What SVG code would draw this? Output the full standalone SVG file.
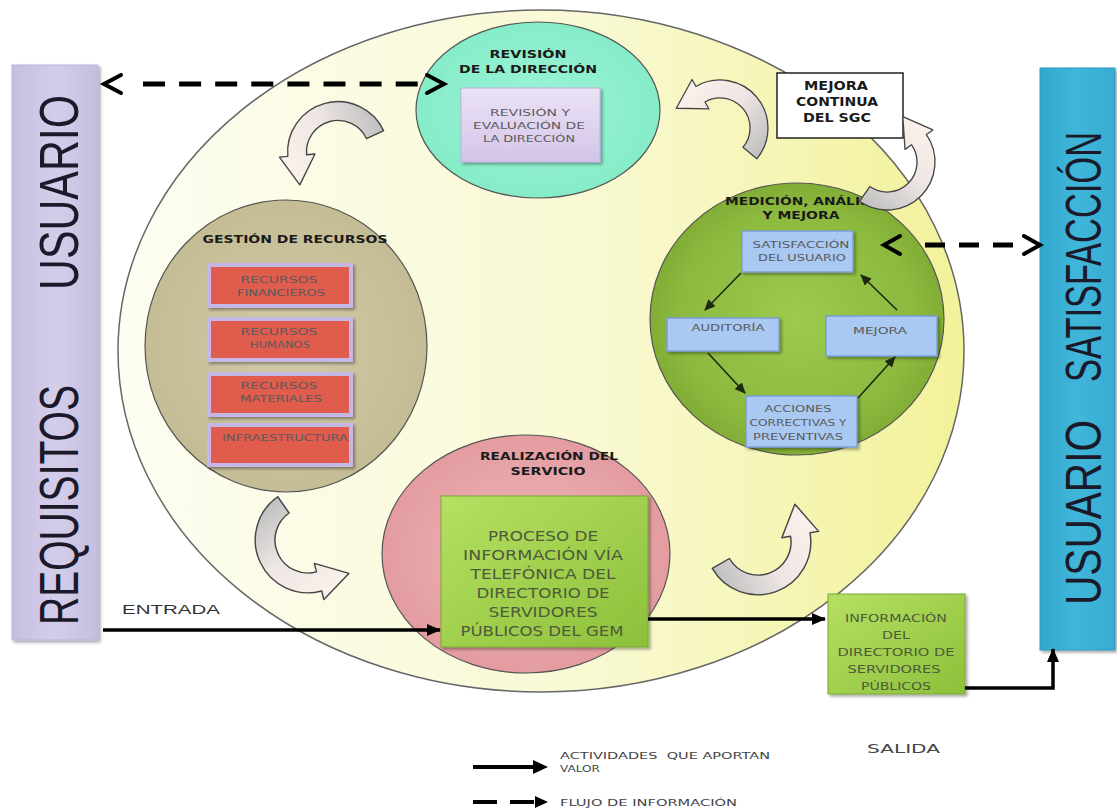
<svg xmlns="http://www.w3.org/2000/svg" width="1117" height="809" viewBox="0 0 1117 809">
<defs>
<style>
.tt{font-family:"DejaVu Sans",sans-serif;font-weight:bold;fill:#1a1a1a;text-anchor:middle}
.bx{font-family:"DejaVu Sans",sans-serif;fill:#5a5a5a;text-anchor:middle}
.big{font-family:"Liberation Sans",Arial,sans-serif;fill:#1a1a2a}
.circ{stroke:#555;stroke-width:1.2}
.blue{fill:#a9c8f2;stroke:#7a9fd6;stroke-width:1.5}
.red{fill:#e05c4e;stroke:#c6b8e6;stroke-width:4}
.arw{fill:url(#gArrow);stroke:#444;stroke-width:1.3;stroke-linejoin:round}
.dash{stroke:#000;stroke-width:5;fill:none}
.chev{stroke:#000;stroke-width:4;fill:none;stroke-linecap:round}
.sol{stroke:#000;stroke-width:3.5;fill:none}
.thin{stroke:#1e2a10;stroke-width:1.6;fill:none}
.lbl{font-family:"DejaVu Sans",sans-serif;fill:#444}
</style>
<linearGradient id="gBig" x1="0" y1="0" x2="1" y2="0"><stop offset="0" stop-color="#fdfdf2"/><stop offset="0.55" stop-color="#f9f9d4"/><stop offset="1" stop-color="#f2f29a"/></linearGradient>
<radialGradient id="gRev"><stop offset="0" stop-color="#9cf4d8"/><stop offset="1" stop-color="#86ecc8"/></radialGradient>
<radialGradient id="gMed"><stop offset="0" stop-color="#9ccb4e"/><stop offset="0.8" stop-color="#8cb93e"/><stop offset="1" stop-color="#82ad36"/></radialGradient>
<radialGradient id="gGes"><stop offset="0" stop-color="#d2cba8"/><stop offset="1" stop-color="#c4bc94"/></radialGradient>
<radialGradient id="gRea"><stop offset="0" stop-color="#f0b8ba"/><stop offset="1" stop-color="#e39ca0"/></radialGradient>
<linearGradient id="gLav" x1="0" y1="0" x2="0" y2="1"><stop offset="0" stop-color="#ece3f6"/><stop offset="1" stop-color="#d3c4e8"/></linearGradient>
<linearGradient id="gGreen" x1="0" y1="0" x2="1" y2="1"><stop offset="0" stop-color="#b6e062"/><stop offset="1" stop-color="#8cc03a"/></linearGradient>
<linearGradient id="gLeft" x1="0" y1="0" x2="1" y2="0"><stop offset="0" stop-color="#c6bee0"/><stop offset="0.5" stop-color="#d4cdea"/><stop offset="1" stop-color="#c6bee0"/></linearGradient>
<linearGradient id="gRight" x1="0" y1="0" x2="1" y2="0"><stop offset="0" stop-color="#32a8cc"/><stop offset="0.5" stop-color="#40b6da"/><stop offset="1" stop-color="#36acd0"/></linearGradient>
<linearGradient id="gArrow" x1="0" y1="0" x2="1" y2="0"><stop offset="0" stop-color="#fbf1ec"/><stop offset="0.5" stop-color="#eee6e4"/><stop offset="1" stop-color="#c0c0c0"/></linearGradient>
<filter id="sh" x="-10%" y="-10%" width="125%" height="130%"><feDropShadow dx="2" dy="2" stdDeviation="1.5" flood-color="#000" flood-opacity="0.35"/></filter>
<path id="cArrow" d="M 48 0 A 48 48 0 0 0 -45.1 -16.4 L -52.6 -19.2 L -46.2 13.0 L -20.7 -7.5 L -28.2 -10.3 A 30 30 0 0 1 30 0 Z"/>
<marker id="ah" markerUnits="userSpaceOnUse" markerWidth="14" markerHeight="12" refX="13" refY="6" orient="auto"><path d="M0,0 L14,6 L0,12 Z" fill="#000"/></marker>
<marker id="ahs" markerUnits="userSpaceOnUse" markerWidth="11" markerHeight="10" refX="10" refY="5" orient="auto"><path d="M0,0 L11,5 L0,10 Z" fill="#1e2a10"/></marker>
</defs>

<rect width="1117" height="809" fill="#ffffff"/>

<g id="sgc-ellipse">
<ellipse cx="541" cy="351" rx="423" ry="341" fill="url(#gBig)" stroke="#666" stroke-width="1.5"/>
</g>

<g id="usuario-requisitos">
<rect x="12" y="65" width="86" height="575" fill="url(#gLeft)" stroke="#bdb4da" stroke-width="1" filter="url(#sh)"/>
<text class="big" transform="translate(78,290) rotate(-90)" font-size="56" textLength="195" lengthAdjust="spacingAndGlyphs">USUARIO</text>
<text class="big" transform="translate(78,625) rotate(-90)" font-size="56" textLength="240" lengthAdjust="spacingAndGlyphs">REQUISITOS</text>
</g>

<g id="usuario-satisfaccion">
<rect x="1040" y="68" width="75" height="582" fill="url(#gRight)" stroke="#2a9cc0" stroke-width="1" filter="url(#sh)"/>
<text class="big" fill="#0a1a30" transform="translate(1101,382) rotate(-90)" font-size="50" textLength="250" lengthAdjust="spacingAndGlyphs">SATISFACCIÓN</text>
<text class="big" fill="#0a1a30" transform="translate(1101,605) rotate(-90)" font-size="50" textLength="185" lengthAdjust="spacingAndGlyphs">USUARIO</text>
</g>

<g id="revision-direccion">
<ellipse class="circ" cx="538" cy="110" rx="122" ry="88" fill="url(#gRev)"/>
<text class="tt" x="528" y="58" font-size="11" textLength="77" lengthAdjust="spacingAndGlyphs">REVISIÓN</text>
<text class="tt" x="528" y="73" font-size="11" textLength="138" lengthAdjust="spacingAndGlyphs">DE LA DIRECCIÓN</text>
<rect x="461" y="88" width="139" height="74" fill="url(#gLav)" stroke="#c0b0dc" stroke-width="1" filter="url(#sh)"/>
<text class="bx" x="530" y="116" font-size="9" textLength="80" lengthAdjust="spacingAndGlyphs">REVISIÓN Y</text>
<text class="bx" x="529" y="129" font-size="9" textLength="112" lengthAdjust="spacingAndGlyphs">EVALUACIÓN DE</text>
<text class="bx" x="529" y="142" font-size="9" textLength="92" lengthAdjust="spacingAndGlyphs">LA DIRECCIÓN</text>
</g>

<g id="mejora-continua">
<rect x="777" y="73" width="126" height="65" fill="#ffffff" stroke="#222" stroke-width="1.5"/>
<text class="tt" x="836" y="90" font-size="12" textLength="64" lengthAdjust="spacingAndGlyphs">MEJORA</text>
<text class="tt" x="837" y="106" font-size="12" textLength="82" lengthAdjust="spacingAndGlyphs">CONTINUA</text>
<text class="tt" x="837" y="122" font-size="12" textLength="68" lengthAdjust="spacingAndGlyphs">DEL SGC</text>
</g>

<g id="medicion-analisis-mejora">
<ellipse class="circ" cx="797" cy="319" rx="147" ry="136" fill="url(#gMed)"/>
<text class="tt" x="725" y="205" font-size="11" style="text-anchor:start" textLength="160" lengthAdjust="spacingAndGlyphs">MEDICIÓN, ANÁLISIS</text>
<text class="tt" x="801" y="219" font-size="11" textLength="77" lengthAdjust="spacingAndGlyphs">Y MEJORA</text>
<g id="satisfaccion-usuario">
<rect class="blue" x="742" y="231" width="111" height="41" filter="url(#sh)"/>
<text class="bx" x="801" y="248" font-size="8.5" textLength="97" lengthAdjust="spacingAndGlyphs">SATISFACCIÓN</text>
<text class="bx" x="802" y="261" font-size="8.5" textLength="88" lengthAdjust="spacingAndGlyphs">DEL USUARIO</text>
</g>
<g id="auditoria">
<rect class="blue" x="667" y="318" width="112" height="33" filter="url(#sh)"/>
<text class="bx" x="728" y="331" font-size="8.5" textLength="73" lengthAdjust="spacingAndGlyphs">AUDITORÍA</text>
</g>
<g id="mejora">
<rect class="blue" x="826" y="316" width="111" height="40" filter="url(#sh)"/>
<text class="bx" x="880" y="334" font-size="8.5" textLength="54" lengthAdjust="spacingAndGlyphs">MEJORA</text>
</g>
<g id="acciones">
<rect class="blue" x="746" y="396" width="111" height="51" filter="url(#sh)"/>
<text class="bx" x="798" y="412" font-size="8.5" textLength="67" lengthAdjust="spacingAndGlyphs">ACCIONES</text>
<text class="bx" x="798" y="426" font-size="8.5" textLength="97" lengthAdjust="spacingAndGlyphs">CORRECTIVAS Y</text>
<text class="bx" x="798" y="440" font-size="8.5" textLength="90" lengthAdjust="spacingAndGlyphs">PREVENTIVAS</text>
</g>
</g>

<g id="gestion-recursos">
<ellipse class="circ" cx="286" cy="346" rx="141" ry="146" fill="url(#gGes)"/>
<text class="tt" x="295" y="243" font-size="11" textLength="185" lengthAdjust="spacingAndGlyphs">GESTIÓN DE RECURSOS</text>
<g id="recursos-financieros">
<rect class="red" x="209" y="265" width="142" height="41" filter="url(#sh)"/>
<text class="bx" x="279" y="283" font-size="8" textLength="77" lengthAdjust="spacingAndGlyphs">RECURSOS</text>
<text class="bx" x="281" y="296" font-size="8" textLength="88" lengthAdjust="spacingAndGlyphs">FINANCIEROS</text>
</g>
<g id="recursos-humanos">
<rect class="red" x="209" y="319" width="142" height="41" filter="url(#sh)"/>
<text class="bx" x="279" y="335" font-size="8" textLength="77" lengthAdjust="spacingAndGlyphs">RECURSOS</text>
<text class="bx" x="280" y="348" font-size="8" textLength="60" lengthAdjust="spacingAndGlyphs">HUMANOS</text>
</g>
<g id="recursos-materiales">
<rect class="red" x="209" y="374" width="142" height="41" filter="url(#sh)"/>
<text class="bx" x="279" y="389" font-size="8" textLength="77" lengthAdjust="spacingAndGlyphs">RECURSOS</text>
<text class="bx" x="281" y="402" font-size="8" textLength="82" lengthAdjust="spacingAndGlyphs">MATERIALES</text>
</g>
<g id="infraestructura">
<rect class="red" x="209" y="425" width="142" height="40" filter="url(#sh)"/>
<text class="bx" x="285" y="441" font-size="8" textLength="126" lengthAdjust="spacingAndGlyphs">INFRAESTRUCTURA</text>
</g>
</g>

<g id="realizacion-servicio">
<ellipse class="circ" cx="526" cy="554" rx="144" ry="119" fill="url(#gRea)"/>
<text class="tt" x="549" y="460" font-size="11" textLength="138" lengthAdjust="spacingAndGlyphs">REALIZACIÓN DEL</text>
<text class="tt" x="548" y="475" font-size="11" textLength="75" lengthAdjust="spacingAndGlyphs">SERVICIO</text>
<rect x="441" y="496" width="207" height="151" fill="url(#gGreen)" stroke="#7aa832" stroke-width="1" filter="url(#sh)"/>
<g class="bx" font-size="14" style="fill:#4e5a3a">
<text x="543" y="541" textLength="110" lengthAdjust="spacingAndGlyphs">PROCESO DE</text>
<text x="543" y="560" textLength="160" lengthAdjust="spacingAndGlyphs">INFORMACIÓN VÍA</text>
<text x="543" y="579" textLength="145" lengthAdjust="spacingAndGlyphs">TELEFÓNICA DEL</text>
<text x="543" y="598" textLength="133" lengthAdjust="spacingAndGlyphs">DIRECTORIO DE</text>
<text x="543" y="617" textLength="109" lengthAdjust="spacingAndGlyphs">SERVIDORES</text>
<text x="542" y="636" textLength="163" lengthAdjust="spacingAndGlyphs">PÚBLICOS DEL GEM</text>
</g>
</g>

<g id="informacion-directorio">
<rect x="828" y="594" width="137" height="100" fill="url(#gGreen)" stroke="#7aa832" stroke-width="1" filter="url(#sh)"/>
<g class="bx" font-size="11" style="fill:#4e5a3a">
<text x="896" y="622" textLength="102" lengthAdjust="spacingAndGlyphs">INFORMACIÓN</text>
<text x="896" y="639" textLength="28" lengthAdjust="spacingAndGlyphs">DEL</text>
<text x="896" y="656" textLength="117" lengthAdjust="spacingAndGlyphs">DIRECTORIO DE</text>
<text x="894" y="673" textLength="93" lengthAdjust="spacingAndGlyphs">SERVIDORES</text>
<text x="896" y="690" textLength="70" lengthAdjust="spacingAndGlyphs">PÚBLICOS</text>
</g>
</g>

<g id="connectors">
<use href="#cArrow" class="arw" transform="translate(338,152) rotate(-25) scale(1.05)"/>
<use href="#cArrow" class="arw" transform="translate(720,128) rotate(40)"/>
<use href="#cArrow" class="arw" transform="translate(887,162) rotate(125)"/>
<use href="#cArrow" class="arw" transform="translate(308,540) rotate(-125) scale(1.1)"/>
<use href="#cArrow" class="arw" transform="translate(758,542) rotate(150) scale(1.1)"/>

<line class="dash" x1="143" y1="84" x2="418" y2="84" stroke-dasharray="22 14.1"/>
<polyline class="chev" points="121,75 104,84 121,93"/>
<polyline class="chev" points="427,75 444,84 427,93"/>

<line class="dash" x1="925" y1="245" x2="1020" y2="245" stroke-dasharray="20 14"/>
<polyline class="chev" points="900,236 884,245 900,254"/>
<polyline class="chev" points="1024,236 1040,245 1024,254"/>

<line class="sol" x1="103" y1="630" x2="440" y2="630" marker-end="url(#ah)"/>
<line class="sol" x1="648" y1="619" x2="825" y2="619" marker-end="url(#ah)"/>
<polyline class="sol" points="965,688 1053,688 1053,649" marker-end="url(#ah)"/>

<line class="thin" x1="741" y1="273" x2="705" y2="310" marker-end="url(#ahs)"/>
<line class="thin" x1="708" y1="353" x2="745" y2="393" marker-end="url(#ahs)"/>
<line class="thin" x1="858" y1="398" x2="895" y2="357" marker-end="url(#ahs)"/>
<line class="thin" x1="897" y1="310" x2="861" y2="275" marker-end="url(#ahs)"/>
</g>

<g id="labels">
<text x="122" y="614" font-family="Liberation Sans, Arial, sans-serif" font-size="13" fill="#333" textLength="98" lengthAdjust="spacingAndGlyphs">ENTRADA</text>
<text x="867" y="753" class="lbl" font-size="13" textLength="73" lengthAdjust="spacingAndGlyphs">SALIDA</text>
</g>

<g id="legend">
<line x1="473" y1="767" x2="534" y2="767" stroke="#000" stroke-width="4"/>
<polygon points="533,760 548,767 533,774" fill="#000"/>
<text class="lbl" x="560" y="759" font-size="9.5" xml:space="preserve" textLength="210" lengthAdjust="spacingAndGlyphs">ACTIVIDADES  QUE APORTAN</text>
<text class="lbl" x="560" y="772" font-size="9.5" textLength="40" lengthAdjust="spacingAndGlyphs">VALOR</text>
<line x1="473" y1="802" x2="535" y2="802" stroke="#000" stroke-width="4" stroke-dasharray="24 13"/>
<polygon points="535,796 548,802 535,808" fill="#000"/>
<text class="lbl" x="560" y="806" font-size="9.5" textLength="177" lengthAdjust="spacingAndGlyphs">FLUJO DE INFORMACIÓN</text>
</g>
</svg>
